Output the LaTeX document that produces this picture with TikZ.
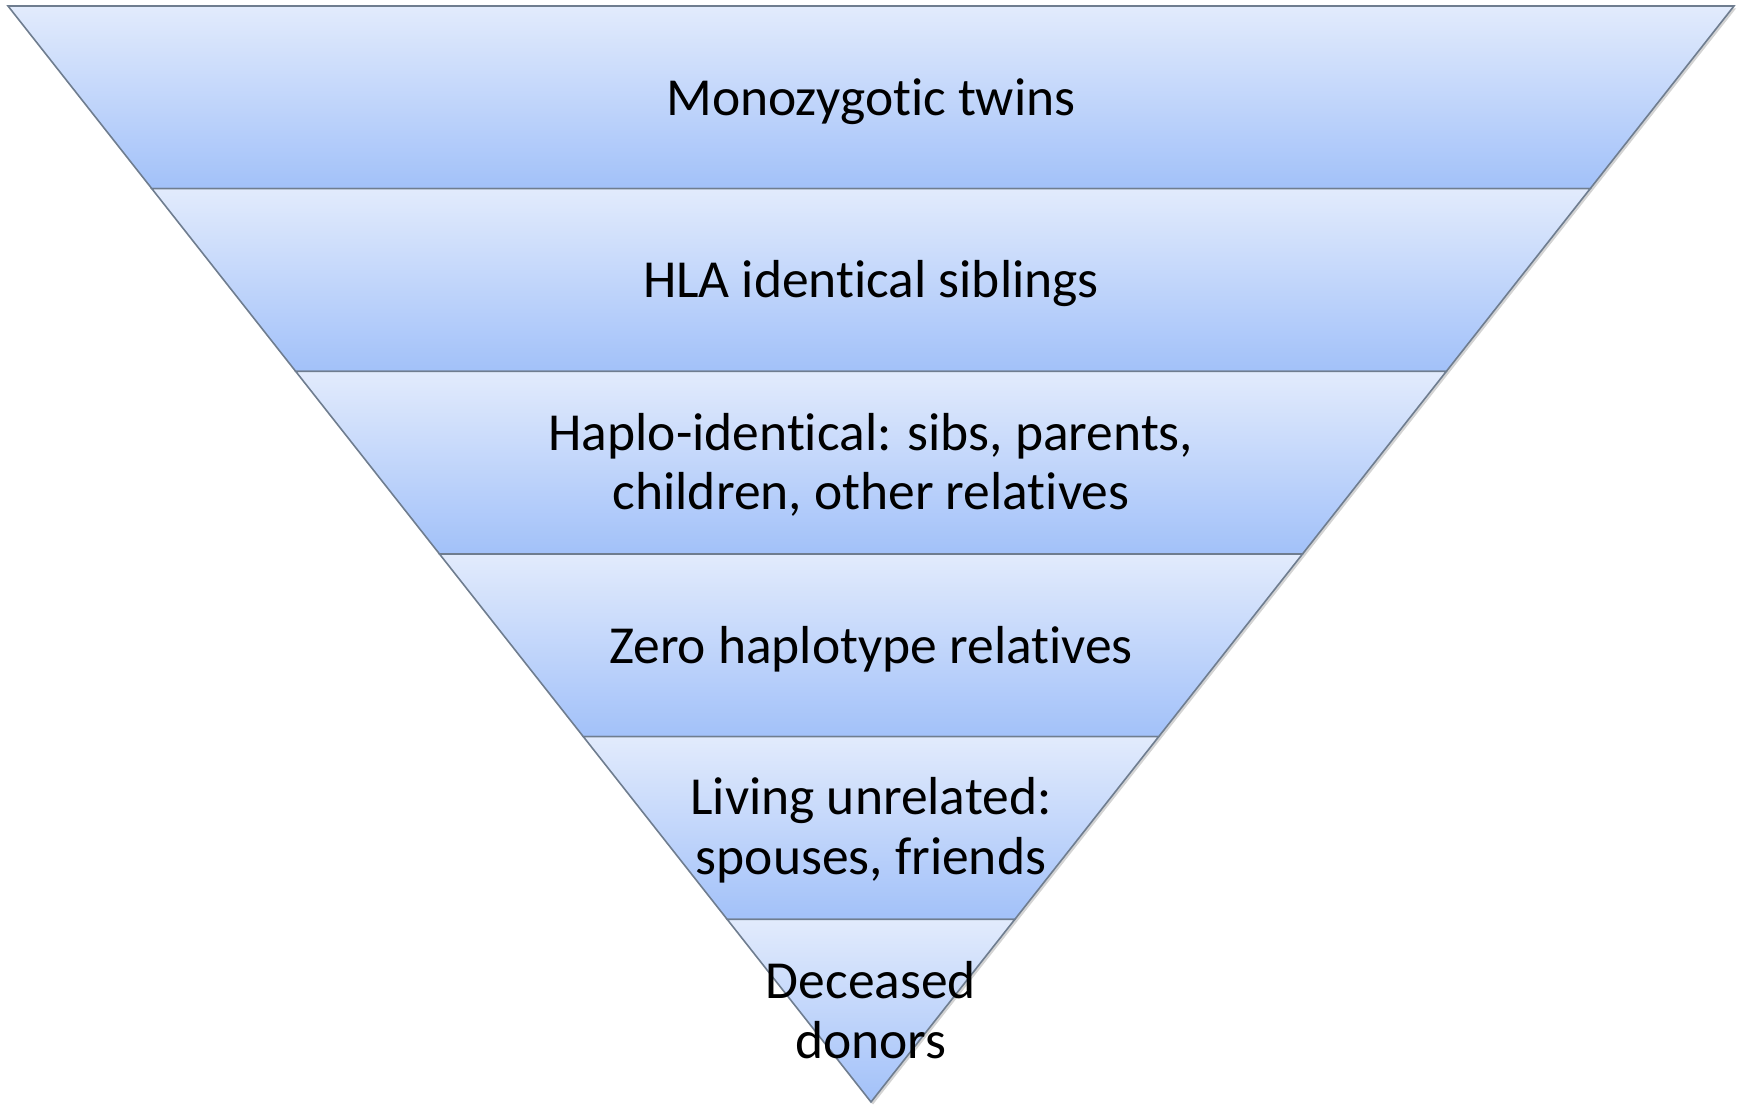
\documentclass[tikz,border=0pt]{standalone}
\usepackage{fontspec}
\setmainfont[Ligatures=NoCommon]{Carlito}
\usetikzlibrary{shadows}
\definecolor{bandtop}{HTML}{E2EBFC}
\definecolor{bandbot}{HTML}{A2C1F9}
\definecolor{bandline}{HTML}{6F7D8F}
\tikzset{
  band/.style={top color=bandtop, bottom color=bandbot, draw=bandline, line width=1.6pt, line join=miter,
    drop shadow={opacity=0.35, shadow xshift=2pt, shadow yshift=-2.5pt}},
  label/.style={align=center, text=black, font=\fontsize{53.5}{59.5}\selectfont, inner sep=0pt}
}
\begin{document}
\begin{tikzpicture}[x=1pt,y=-1pt]
\useasboundingbox (0,0) rectangle (1743,1108);
\pgfmathsetmacro{\H}{182.667}
\foreach \i in {0,...,5}{
  \pgfmathsetmacro{\ya}{6+\i*\H}
  \pgfmathsetmacro{\yb}{6+(\i+1)*\H}
  \pgfmathsetmacro{\la}{8+0.787409*(\ya-6)}
  \pgfmathsetmacro{\lb}{8+0.787409*(\yb-6)}
  \pgfmathsetmacro{\ra}{1734-0.787409*(\ya-6)}
  \pgfmathsetmacro{\rb}{1734-0.787409*(\yb-6)}
  \ifnum\i=5
    \path[band] (\la,\ya) -- (\ra,\ya) -- (871,1102) -- cycle;
  \else
    \path[band] (\la,\ya) -- (\ra,\ya) -- (\rb,\yb) -- (\lb,\yb) -- cycle;
  \fi
}
\node[label] (t1) at (871,101.5) {Monozygotic twins};
\node[label] (t2) at (871,284) {HLA identical siblings};
\node[label] (t3) at (871,465) {Haplo-identical: sibs, parents,\\children, other relatives};
\node[label] (t4) at (871,649) {Zero haplotype relatives};
\node[label] (t5) at (871,830) {Living unrelated:\\spouses, friends};
\node[label] (t6) at (871,1010) {Deceased\\donors};
\end{tikzpicture}
\end{document}
